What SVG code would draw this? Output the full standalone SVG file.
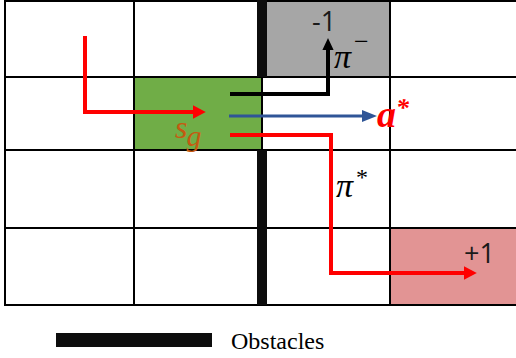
<svg xmlns="http://www.w3.org/2000/svg" width="516" height="358" viewBox="0 0 516 358">
<style>
.grid{stroke:#000;stroke-width:2;fill:none}
.num{font-family:"Open Sans","Liberation Sans",sans-serif;font-size:27px;fill:#1a1a1a}
.math{font-family:"Liberation Serif","DejaVu Serif",serif;font-style:italic}
.red{stroke:#FF0000;stroke-width:4;fill:none}
</style>
<defs>
<marker id="ahR" markerWidth="4" markerHeight="4" refX="0" refY="2" orient="auto" markerUnits="strokeWidth" overflow="visible">
<path d="M0,0.3 L3.2,2 L0,3.7 z" fill="#FF0000"/>
</marker>
<marker id="ahK" markerWidth="4" markerHeight="4" refX="0" refY="2" orient="auto" markerUnits="strokeWidth" overflow="visible">
<path d="M0,0.6 L3,2 L0,3.4 z" fill="#000"/>
</marker>
<marker id="ahB" markerWidth="4" markerHeight="4" refX="0" refY="2" orient="auto" markerUnits="strokeWidth" overflow="visible">
<path d="M0,0 L5,2 L0,4 z" fill="#2F5597"/>
</marker>
</defs>
<rect width="516" height="358" fill="#fff"/>
<g id="cells">
<rect id="cell-goal-neg" x="262" y="0" width="128" height="77" fill="#A6A6A6"/>
<rect id="cell-sg" x="134" y="77" width="128" height="73" fill="#70AD47"/>
<rect id="cell-goal-pos" x="390" y="228" width="126" height="77" fill="#E29494"/>
</g>
<g id="grid" class="grid">
<line x1="5" y1="1" x2="516" y2="1"/>
<line x1="5" y1="77" x2="516" y2="77"/>
<line x1="5" y1="150" x2="516" y2="150"/>
<line x1="5" y1="228" x2="516" y2="228"/>
<line x1="5" y1="305" x2="516" y2="305"/>
<line x1="5" y1="0" x2="5" y2="306"/>
<line x1="134" y1="0" x2="134" y2="306"/>
<line x1="262" y1="0" x2="262" y2="306"/>
<line x1="390" y1="0" x2="390" y2="306"/>
</g>
<g id="obstacles" fill="#0D0D0D">
<rect x="257" y="0" width="10" height="77"/>
<rect x="257" y="150" width="10" height="155"/>
</g>
<g id="connectors">
<polyline class="red" points="85,36 85,112 193,112" marker-end="url(#ahR)"/>
<polyline points="230,94 328,94 328,50" fill="none" stroke="#000" stroke-width="4" marker-end="url(#ahK)"/>
<line x1="229" y1="116" x2="362" y2="116" stroke="#2F5597" stroke-width="3" marker-end="url(#ahB)"/>
<polyline class="red" points="230,135 331,135 331,273 464,273" marker-end="url(#ahR)"/>
</g>
<g id="labels">
<text class="num" x="312" y="31">-1</text>
<text class="num" x="464" y="263">+1</text>
<text class="math" x="334" y="68" font-size="34" fill="#000">π<tspan dx="3" dy="-18" font-size="26" font-style="normal">−</tspan></text>
<text class="math" x="336" y="197" font-size="34" fill="#000">π<tspan dx="3" dy="-12" font-size="24" font-style="normal">*</tspan></text>
<text class="math" x="377" y="127" font-size="38" font-weight="bold" fill="#FF0000">a<tspan dy="-11" font-size="26">*</tspan></text>
<text class="math" x="175" y="138" font-size="32" fill="#C55A11">s<tspan dx="-1" dy="8" font-size="30">g</tspan></text>
</g>
<g id="legend">
<rect x="56" y="333" width="156" height="14" fill="#0D0D0D"/>
<text x="231" y="349" font-family="Liberation Serif,serif" font-size="24" fill="#000">Obstacles</text>
</g>
</svg>
